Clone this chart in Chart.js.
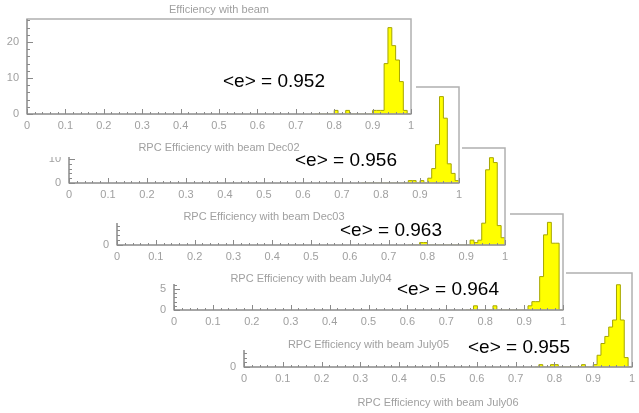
<!DOCTYPE html>
<html>
<head>
<meta charset="utf-8">
<script src="https://cdn.jsdelivr.net/npm/chart.js@4"></script>
<style>
  body { margin: 0; width: 639px; height: 413px; position: relative; overflow: hidden; background: #fff; font-family: 'Liberation Sans', Arial, sans-serif; }
  .panel { position: absolute; background: #fff; }
  .mean { position: absolute; z-index: 20; font-size: 19px; line-height: 20px; color: #000; white-space: nowrap; }
</style>
</head>
<body>
<script>
// Histogram bins: 0.01 wide, first bin starts at 0.75
const binStart = 0.75;
const binWidth = 0.01;

// counts per bin (0.75 ... 0.99)
const countsBeam   = [0,0,0,0,0,1,0,0,1,0,0,0,0,0,0,1,1,1,14,24,19,15,9,1,0];
const countsDec02  = [0,0,0,0,0,0,0,0,0,0,0,0,1,1,0,1,0,2,6,16,36,27,8,4,1];
const countsDec03  = [0,0,0,1,1,0,0,0,0,0,0,0,0,0,0,0,2,1,2,9,31,36,34,8,3];
const countsJuly04 = [0,0,1,0,0,0,0,1,0,0,0,0,0,0,0,0,1,2,2,8,18,21,16,16,0];
const countsJuly05 = [0,1,0,0,1,1,0,0,0,0,0,0,1,0,0,1,5,10,13,17,20,35,20,4,0];

const yMax = [26.4, 40, 40, 23, 40];
const means = ['0.952', '0.956', '0.963', '0.964', '0.955'];
const topTitle = 'Efficiency with beam';
const xTitles = [
    'RPC Efficiency with beam Dec02',
    'RPC Efficiency with beam Dec03',
    'RPC Efficiency with beam July04',
    'RPC Efficiency with beam July05',
    'RPC Efficiency with beam July06'
];

// layout of the stacked screenshots (page pixels)
const panels = [
    { box: [0, 0, 416, 157],     plot: [27, 19, 411, 114],   counts: countsBeam,   labelStep: 10, major: 10, minor: 2, titlePad: 3.5 },
    { box: [35, 75, 462, 223],   plot: [69, 87, 459, 183],   counts: countsDec02,  labelStep: 10, major: 10, minor: 2, titlePad: 0.5 },
    { box: [85, 135, 510, 284],  plot: [117, 148, 505, 245], counts: countsDec03,  labelStep: 20, major: 10, minor: 2, titlePad: 0 },
    { box: [140, 200, 566, 350], plot: [174, 214, 563, 310], counts: countsJuly04, labelStep: 5,  major: 5,  minor: 1, titlePad: 0 },
    { box: [210, 260, 639, 413], plot: [244, 273, 632, 367], counts: countsJuly05, labelStep: 20, major: 10, minor: 2, titlePad: 4.5 }
];
const meanPos = [[223, 81], [295, 160], [340, 230], [397, 289], [468, 347]];

const grey = '#a0a0a0';

// ROOT-like frame with inward ticks
const rootAxes = {
    id: 'rootAxes',
    afterDatasetsDraw(chart, args, opts) {
        const { ctx, chartArea: a, scales: { x, y } } = chart;
        ctx.save();
        ctx.strokeStyle = '#b0b0b0';
        ctx.lineWidth = 1.5;
        ctx.strokeRect(a.left, a.top, a.right - a.left, a.bottom - a.top);
        ctx.strokeStyle = '#8a8a8a';
        ctx.lineWidth = 1;
        ctx.beginPath();
        ctx.moveTo(a.left, a.top); ctx.lineTo(a.left, a.bottom); ctx.lineTo(a.right, a.bottom);
        for (let k = 0; k <= 50; k++) {
            const px = Math.round(x.getPixelForValue(k * 0.02)) + 0.5;
            const len = k % 5 === 0 ? 5 : 2;
            ctx.moveTo(px, a.bottom); ctx.lineTo(px, a.bottom - len);
        }
        const per = Math.round(opts.major / opts.minor);
        for (let k = 0; k * opts.minor <= y.max + 1e-9; k++) {
            const py = Math.round(y.getPixelForValue(k * opts.minor)) + 0.5;
            const len = k % per === 0 ? 6 : 3;
            ctx.moveTo(a.left, py); ctx.lineTo(a.left + len, py);
        }
        ctx.stroke();
        ctx.restore();
    }
};

panels.forEach((p, i) => {
    const [bl, bt, br, bb] = p.box;
    const [pl, pt, pr, pb] = p.plot;
    const div = document.createElement('div');
    div.className = 'panel';
    div.style.left = bl + 'px';
    div.style.top = bt + 'px';
    div.style.width = (br - bl) + 'px';
    div.style.height = (bb - bt) + 'px';
    div.style.zIndex = 10 - i;
    const canvas = document.createElement('canvas');
    canvas.width = br - bl;
    canvas.height = bb - bt;
    div.appendChild(canvas);
    document.body.appendChild(div);

    const pts = p.counts.map((c, k) => ({ x: +(binStart + k * binWidth).toFixed(2), y: c }));
    pts.push({ x: +(binStart + p.counts.length * binWidth).toFixed(2), y: 0 });

    new Chart(canvas, {
        type: 'line',
        data: {
            datasets: [{
                data: pts, stepped: true, fill: 'origin',
                backgroundColor: '#ffff00', borderColor: '#a6a600', borderWidth: 1,
                pointRadius: 0
            }]
        },
        options: {
            responsive: false, animation: false,
            layout: { padding: { left: 0, right: br - pr, top: i === 0 ? 0 : pt - bt, bottom: 0 } },
            plugins: {
                legend: { display: false },
                tooltip: { enabled: false },
                title: {
                    display: i === 0, text: topTitle, color: grey, fullSize: false,
                    font: { size: 11, weight: 'normal', lineHeight: 1 }, padding: { top: 4, bottom: 4 }
                },
                rootAxes: { major: p.major, minor: p.minor }
            },
            scales: {
                x: {
                    type: 'linear', min: 0, max: 1,
                    grid: { display: false, drawTicks: false }, border: { display: false },
                    ticks: {
                        stepSize: 0.1, padding: 5, color: grey, font: { size: 11 },
                        maxRotation: 0, autoSkip: false, includeBounds: false,
                        callback: v => String(+v.toFixed(1))
                    },
                    title: { display: true, text: xTitles[i], color: grey, font: { size: 11, lineHeight: 1 }, padding: { top: 0, bottom: p.titlePad } },
                    afterFit: s => { s.height = bb - pb; s.paddingLeft = 0; s.paddingRight = 0; }
                },
                y: {
                    min: 0, max: yMax[i],
                    grid: { display: false, drawTicks: false }, border: { display: false },
                    ticks: { stepSize: p.labelStep, padding: 8, color: grey, font: { size: 11 }, includeBounds: false },
                    afterFit: s => { s.width = pl - bl; s.paddingTop = 0; s.paddingBottom = 0; }
                }
            }
        },
        plugins: [rootAxes]
    });

    const m = document.createElement('div');
    m.className = 'mean';
    m.textContent = '<e> = ' + means[i];
    m.style.left = meanPos[i][0] + 'px';
    m.style.top = (meanPos[i][1] - 10) + 'px';
    document.body.appendChild(m);
});
</script>
</body>
</html>
